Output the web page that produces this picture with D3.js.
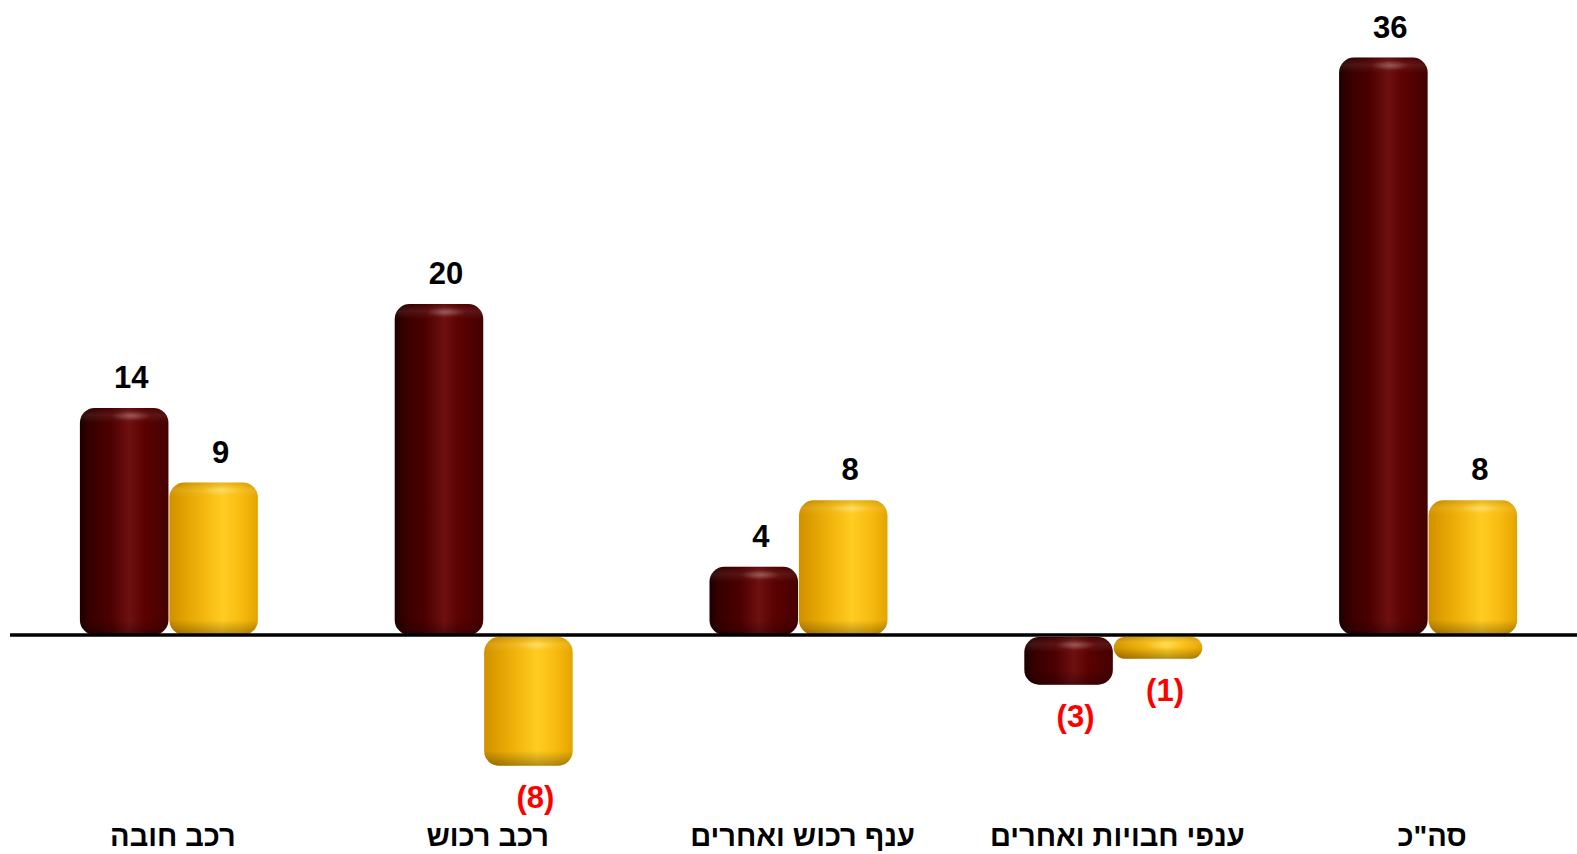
<!DOCTYPE html>
<html>
<head>
<meta charset="utf-8">
<script src="https://cdn.jsdelivr.net/npm/d3@7"></script>
<style>
  body { margin: 0; background: #fff; }
  text { font-family: "Liberation Sans", Arial, sans-serif; font-weight: bold; }
</style>
</head>
<body>
<div id="chart"></div>
<script>
// chart values (labels show them rounded)
var categories = ["רכב חובה", "רכב רכוש", "ענף רכוש ואחרים", "ענפי חבויות ואחרים", "סה\"כ"];
var series = ["a", "b"];
var valuesA = [14.0, 20.4, 4.2, -3.0, 35.6];
var valuesB = [9.4, -8.0, 8.3, -1.4, 8.3];

var width = 1577, height = 854;

var data = categories.map(function(c, i) {
    return { cat: c, vals: [ { key: "a", v: valuesA[i] }, { key: "b", v: valuesB[i] } ] };
});

var svg = d3.select("#chart").append("svg")
    .attr("width", width)
    .attr("height", height);

var x0 = d3.scaleBand()
    .domain(categories)
    .range([11.5, 1585.5])
    .padding(0);

var x1 = d3.scaleBand()
    .domain(series)
    .range([x0.bandwidth() / 2 - 89, x0.bandwidth() / 2 + 89])
    .paddingInner(0.01);

var y = d3.scaleLinear()
    .domain([0, 35.6])
    .range([635, 57.5]);

// colours for the cylinder look
var tone = {
    a: [["0%", "#1e0000"], ["12%", "#380000"], ["35%", "#4c0000"], ["56%", "#6e1010"], ["72%", "#5c0202"], ["100%", "#440000"]],
    b: [["0%", "#d09000"], ["15%", "#e0a000"], ["40%", "#f4b810"], ["60%", "#ffcc22"], ["80%", "#f8bc10"], ["100%", "#e4a400"]]
};

var defs = svg.append("defs");
series.forEach(function(s) {
    var g = defs.append("linearGradient")
        .attr("id", "cyl-" + s)
        .attr("x1", 0).attr("x2", 1).attr("y1", 0).attr("y2", 0);
    tone[s].forEach(function(st) {
        g.append("stop").attr("offset", st[0]).attr("stop-color", st[1]);
    });
});

var hl = defs.append("radialGradient").attr("id", "hl");
hl.append("stop").attr("offset", "0%").attr("stop-color", "#fff").attr("stop-opacity", 0.25);
hl.append("stop").attr("offset", "100%").attr("stop-color", "#fff").attr("stop-opacity", 0);

var groups = svg.append("g")
    .selectAll("g")
    .data(data)
    .enter().append("g")
    .attr("transform", function(d) { return "translate(" + x0(d.cat) + ",0)"; });

var bars = groups.selectAll("g.bar")
    .data(function(d, i) { return d.vals.map(function(v) { return Object.assign({ gi: i }, v); }); })
    .enter().append("g")
    .attr("class", "bar");

function barTop(d) { return d.v >= 0 ? y(d.v) : y(0) + 2; }
function barH(d) { return d.v >= 0 ? y(0) - y(d.v) : y(d.v) - y(0) - 1; }

bars.each(function(d) {
    var g = d3.select(this);
    var bx = x1(d.key), bw = x1.bandwidth();
    var top = barTop(d), h = barH(d);
    var r = Math.min(15, h / 2);
    var id = "sh-" + d.gi + d.key;
    var sh = defs.append("linearGradient").attr("id", id)
        .attr("x1", 0).attr("x2", 0).attr("y1", 0).attr("y2", 1);
    var f = r / h;
    sh.append("stop").attr("offset", 0).attr("stop-color", "#000").attr("stop-opacity", 0.1);
    sh.append("stop").attr("offset", f * 0.5).attr("stop-color", "#fff").attr("stop-opacity", 0.08);
    sh.append("stop").attr("offset", f).attr("stop-color", "#fff").attr("stop-opacity", 0);
    sh.append("stop").attr("offset", 1 - f).attr("stop-color", "#000").attr("stop-opacity", 0);
    sh.append("stop").attr("offset", 1).attr("stop-color", "#000").attr("stop-opacity", 0.3);

    g.append("rect")
        .attr("x", bx).attr("y", top)
        .attr("width", bw).attr("height", h)
        .attr("rx", r).attr("ry", r)
        .attr("fill", "url(#cyl-" + d.key + ")");
    g.append("rect")
        .attr("x", bx).attr("y", top)
        .attr("width", bw).attr("height", h)
        .attr("rx", r).attr("ry", r)
        .attr("fill", "url(#" + id + ")");
    g.append("ellipse")
        .attr("cx", bx + bw * 0.58).attr("cy", top + Math.min(8, h / 2))
        .attr("rx", bw * 0.22).attr("ry", Math.min(5, h / 4))
        .attr("fill", "url(#hl)");
});

// value labels
groups.selectAll("text.val")
    .data(function(d) { return d.vals; })
    .enter().append("text")
    .attr("class", "val")
    .attr("x", function(d) { return x1(d.key) + x1.bandwidth() / 2 + 7; })
    .attr("y", function(d) { return d.v >= 0 ? y(d.v) - 20 : y(d.v) + 43; })
    .attr("text-anchor", "middle")
    .attr("font-size", 31)
    .attr("fill", function(d) { return d.v >= 0 ? "#000" : "#ff0000"; })
    .text(function(d) {
        var n = Math.round(Math.abs(d.v));
        return d.v >= 0 ? n : "(" + n + ")";
    });

// zero line
svg.append("line")
    .attr("x1", 10).attr("x2", width)
    .attr("y1", y(0)).attr("y2", y(0))
    .attr("stroke", "#000")
    .attr("stroke-width", 3.5);

// category labels
svg.append("g")
    .selectAll("text")
    .data(categories)
    .enter().append("text")
    .attr("x", function(d) { return x0(d) + x0.bandwidth() / 2 + 4; })
    .attr("y", 846)
    .attr("text-anchor", "middle")
    .attr("direction", "rtl")
    .attr("font-size", 29)
    .attr("fill", "#000")
    .text(function(d) { return d; });
</script>
</body>
</html>
